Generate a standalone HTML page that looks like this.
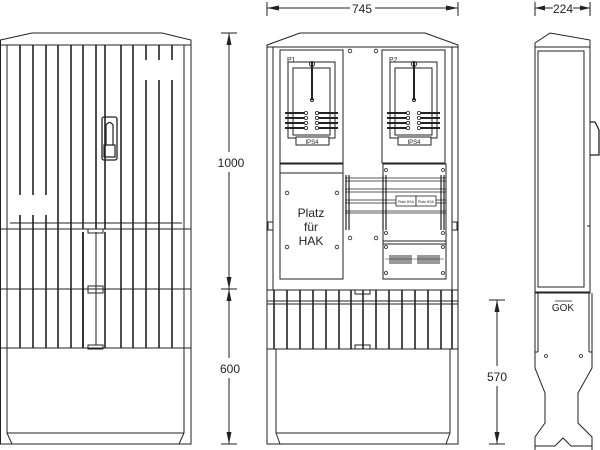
<!DOCTYPE html>
<html><head><meta charset="utf-8"><style>html,body{margin:0;padding:0;background:#fff}svg{display:block}text{font-family:"Liberation Sans",sans-serif;fill:#222}</style></head><body>
<svg width="600" height="450" viewBox="0 0 600 450" xmlns="http://www.w3.org/2000/svg" fill="none" stroke="#222" stroke-width="1">
<!-- LEFT VIEW -->
<path d="M0.5,40 L32,33 L162,33 L191,40 L191,444 L0.5,444 Z"/>
<line x1="0" y1="45" x2="191" y2="45"/>
<line x1="7" y1="45" x2="7" y2="433"/><line x1="184" y1="45" x2="184" y2="433"/>
<line x1="7" y1="433" x2="184" y2="433"/>
<line x1="7" y1="433" x2="12" y2="444"/><line x1="184" y1="433" x2="179" y2="444"/>
<line x1="0" y1="229" x2="191" y2="229"/><line x1="0" y1="289" x2="191" y2="289"/><line x1="0" y1="348" x2="191" y2="348"/>
<line x1="10" y1="223" x2="182" y2="223"/>
<g stroke-width="1.6">
<path d="M20,45V195M20,215V348M33,45V195M33,215V348M46,45V195M46,215V348M58,45V348M71,45V348M83,45V229M83,232V348M96,45V229M105,45V229M105,232V348M121,45V348M133,45V348M146,45V60M146,80V348M159,45V60M159,80V348M172,45V60M172,80V348"/>
<path d="M83,232V348" />
</g>
<line x1="96" y1="232" x2="96" y2="345"/>
<rect x="88" y="229" width="15" height="4"/><rect x="88" y="286" width="15" height="7"/><rect x="88" y="345" width="15" height="4"/>
<rect x="102" y="117" width="15" height="43" rx="2" stroke-width="1.3"/>
<path d="M106,145 V125 Q109.5,120 113,125 V145 M104,145 H115 V157 H104 Z" stroke-width="1.2"/>
<!-- dims left -->
<line x1="229" y1="33" x2="229" y2="444"/>
<line x1="221" y1="33" x2="237" y2="33"/><line x1="221" y1="289" x2="237" y2="289"/><line x1="221" y1="444" x2="237" y2="444"/>
<g fill="#222" stroke="none">
<path d="M229,33 l-2.5,12 h5z"/><path d="M229,289 l-2.5,-12 h5z"/><path d="M229,289 l-2.5,12 h5z"/><path d="M229,444 l-2.5,-12 h5z"/>
</g>
<rect x="219" y="152" width="22" height="20" fill="#fff" stroke="none"/>
<rect x="219" y="358" width="22" height="20" fill="#fff" stroke="none"/>
<text x="231" y="167" font-size="12" text-anchor="middle" stroke="none">1000</text>
<text x="230" y="373" font-size="12" text-anchor="middle" stroke="none">600</text>

<!-- MIDDLE VIEW -->
<line x1="267" y1="2" x2="267" y2="16"/><line x1="458" y1="2" x2="458" y2="16"/>
<line x1="267" y1="8" x2="350" y2="8"/><line x1="375" y1="8" x2="458" y2="8"/>
<g fill="#222" stroke="none"><path d="M267,8 l12,-2.5 v5z"/><path d="M458,8 l-12,-2.5 v5z"/></g>
<text x="362" y="13" font-size="12" text-anchor="middle" stroke="none">745</text>
<path d="M267,45 L300,33 L425,33 L458,45 L458,444 L267,444 Z"/>
<line x1="267" y1="47" x2="458" y2="47"/>
<line x1="273" y1="47" x2="273" y2="290"/><line x1="452" y1="47" x2="452" y2="290"/>
<rect x="268" y="222" width="5" height="8"/><rect x="452" y="222" width="5" height="8"/>
<!-- meter panels -->
<g id="mp">
<rect x="280" y="50" width="63" height="113"/>
<rect x="288" y="62" width="47" height="76"/>
<rect x="293" y="68" width="37" height="67"/>
<line x1="312" y1="62" x2="312" y2="100" stroke-width="2"/>
<circle cx="312" cy="100" r="1.5"/><circle cx="312" cy="64" r="2.5"/>
<g stroke-width="2"><path d="M285,113H305M285,118H305M285,123H305M285,128H305M317,113H338M317,118H338M317,123H338M317,128H338"/></g>
<g fill="#fff" stroke-width="0.8"><circle cx="306" cy="113" r="1.6"/><circle cx="306" cy="118" r="1.6"/><circle cx="306" cy="123" r="1.6"/><circle cx="306" cy="128" r="1.6"/><circle cx="317" cy="113" r="1.6"/><circle cx="317" cy="118" r="1.6"/><circle cx="317" cy="123" r="1.6"/><circle cx="317" cy="128" r="1.6"/></g>
<rect x="296" y="137" width="33" height="8" fill="#fff"/>
</g>
<text x="312" y="144" font-size="6" text-anchor="middle" stroke="none">IPS4</text>
<text x="287" y="62" font-size="7" stroke="none">P1</text>
<use href="#mp" transform="translate(102,0)"/>
<text x="414" y="144" font-size="6" text-anchor="middle" stroke="none">IPS4</text>
<text x="389" y="62" font-size="7" stroke="none">P2</text>
<g stroke-width="0.8" fill="#fff"><circle cx="350" cy="51" r="1.8"/><circle cx="376" cy="51" r="1.8"/><circle cx="350" cy="238" r="1.8"/><circle cx="376" cy="238" r="1.8"/></g>
<!-- HAK -->
<rect x="280" y="164" width="63" height="115"/>
<line x1="280" y1="173" x2="343" y2="173"/>
<g stroke-width="0.8"><circle cx="287" cy="193" r="1.8"/><circle cx="337" cy="193" r="1.8"/><circle cx="287" cy="247" r="1.8"/><circle cx="337" cy="247" r="1.8"/></g>
<text x="311" y="217" font-size="12" text-anchor="middle" stroke="none">Platz</text>
<text x="311" y="231" font-size="12" text-anchor="middle" stroke="none">für</text>
<text x="311" y="245" font-size="12" text-anchor="middle" stroke="none">HAK</text>
<!-- right area -->
<rect x="383" y="164" width="63" height="115"/>
<path d="M345,178H446M345,181H446M345,189H446M345,192H446M345,200H446M345,203H446M345,211H446M345,213H446" stroke-width="0.8"/>
<path d="M346,175V230M349,175V230M383,175V230M386,175V230M441,175V230M444,175V230" stroke-width="1.2"/>
<rect x="396" y="196" width="20" height="10" fill="#fff" stroke-width="0.8"/><rect x="416" y="196" width="20" height="10" fill="#fff" stroke-width="0.8"/>
<text x="406" y="203" font-size="3.5" text-anchor="middle" stroke="none">Platz HSA</text>
<text x="426" y="203" font-size="3.5" text-anchor="middle" stroke="none">Platz HSA</text>
<line x1="383" y1="241" x2="446" y2="241"/><line x1="383" y1="244" x2="446" y2="244"/>
<rect x="389" y="255" width="23" height="9" fill="#999" stroke="none"/><rect x="417" y="255" width="23" height="9" fill="#999" stroke="none"/>
<line x1="385" y1="259" x2="444" y2="259" stroke-width="0.6"/>
<g stroke-width="0.8"><circle cx="386" cy="170" r="1.5"/><circle cx="443" cy="170" r="1.5"/><circle cx="386" cy="233" r="1.5"/><circle cx="443" cy="233" r="1.5"/><circle cx="386" cy="247" r="1.5"/><circle cx="443" cy="247" r="1.5"/><circle cx="386" cy="273" r="1.5"/><circle cx="443" cy="273" r="1.5"/></g>
<!-- lower band -->
<line x1="267" y1="290" x2="458" y2="290"/><line x1="267" y1="301" x2="458" y2="301"/><line x1="267" y1="304" x2="458" y2="304"/><line x1="267" y1="349" x2="458" y2="349"/>
<path d="M274,290V349M287,290V349M300,290V349M313,290V349M326,290V349M339,290V349M351,290V349M363,290V349M376,290V349M389,290V349M402,290V349M415,290V349M428,290V349M441,290V349M452,290V349" stroke-width="1.6"/>
<rect x="355" y="290" width="15" height="4"/><rect x="355" y="345" width="15" height="4"/>
<line x1="276" y1="349" x2="276" y2="433"/><line x1="450" y1="349" x2="450" y2="433"/>
<line x1="276" y1="433" x2="450" y2="433"/>
<line x1="276" y1="433" x2="280" y2="444"/><line x1="450" y1="433" x2="446" y2="444"/>

<!-- RIGHT VIEW -->
<line x1="535" y1="2" x2="535" y2="16"/><line x1="590" y1="2" x2="590" y2="16"/>
<line x1="535" y1="8" x2="553" y2="8"/><line x1="573" y1="8" x2="590" y2="8"/>
<g fill="#222" stroke="none"><path d="M535,8 l10,-2.5 v5z"/><path d="M590,8 l-10,-2.5 v5z"/></g>
<text x="563" y="13" font-size="12" text-anchor="middle" stroke="none">224</text>
<path d="M535,43 L550,33 L590,40 L590,293 L535,293 Z"/>
<line x1="535" y1="47" x2="590" y2="47"/>
<rect x="538" y="51" width="46" height="236"/>
<line x1="535" y1="292" x2="590" y2="292"/>
<path d="M590,122 L595,122 L599,130 L599,155 L590,155" stroke-width="1.3"/>
<line x1="587" y1="226" x2="590" y2="226"/>
<path d="M535,293 V368 L545,393 V423 L535,437 V450 M592,293 V368 L578,393 V423 L592,437 V450"/>
<line x1="538" y1="293" x2="538" y2="352"/><line x1="589" y1="293" x2="589" y2="352"/>
<line x1="535" y1="352" x2="538" y2="352"/><line x1="589" y1="352" x2="592" y2="352"/>
<path d="M535,446 H555 L563,438 L571,446 H592"/>
<g stroke-width="0.8"><circle cx="546" cy="356" r="1.5"/><circle cx="581" cy="356" r="1.5"/></g>
<text x="563" y="311" font-size="10" text-anchor="middle" stroke="none">GOK</text>
<line x1="555" y1="301" x2="572" y2="301" stroke-width="0.8"/>
<!-- dim 570 -->
<line x1="497" y1="300" x2="497" y2="444"/>
<line x1="489" y1="300" x2="505" y2="300"/><line x1="489" y1="444" x2="505" y2="444"/>
<g fill="#222" stroke="none"><path d="M497,300 l-2.5,12 h5z"/><path d="M497,444 l-2.5,-12 h5z"/></g>
<rect x="486" y="366" width="22" height="20" fill="#fff" stroke="none"/>
<text x="497" y="381" font-size="12" text-anchor="middle" stroke="none">570</text>
</svg>
</body></html>
